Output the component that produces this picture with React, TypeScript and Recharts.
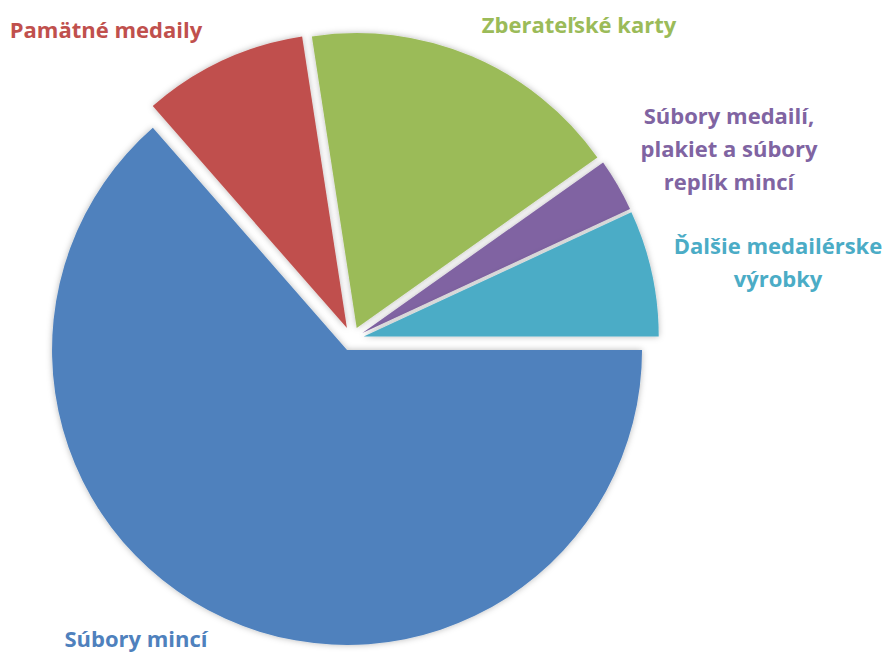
import React from 'react';
import { PieChart, Pie, Cell, Sector } from 'recharts';

// slices in drawing order (clockwise from 3 o'clock)
const sliceNames = [
    'Súbory mincí',
    'Pamätné medaily',
    'Zberateľské karty',
    'Súbory medailí, plakiet a súbory replík mincí',
    'Ďalšie medailérske výrobky',
];
const sliceValues = [63.5, 9.0, 17.6, 2.9, 6.9];
const sliceColors = ['#4F81BD', '#C0504D', '#9BBB59', '#8064A2', '#4BACC6'];
const labelLines = [
    ['Súbory mincí'],
    ['Pamätné medaily'],
    ['Zberateľské karty'],
    ['Súbory medailí,', 'plakiet a súbory', 'replík mincí'],
    ['Ďalšie medailérske', 'výrobky'],
];

// label anchors (center x, first baseline y)
const labelPos = [
    { x: 136, y: 647 },
    { x: 106, y: 38 },
    { x: 579, y: 33 },
    { x: 729, y: 124 },
    { x: 778, y: 254 },
];

const data = sliceNames.map((name, i) => ({ name, value: sliceValues[i] }));

const RADIAN = Math.PI / 180;
const EXPLODE = 12;
const LINE_STEP = 33;

const ExplodedSector = (props: any) => {
    const { cx, cy, midAngle } = props;
    const dx = EXPLODE * Math.cos(-midAngle * RADIAN);
    const dy = EXPLODE * Math.sin(-midAngle * RADIAN);
    return (
        <Sector
            {...props}
            cx={cx + dx}
            cy={cy + dy}
            stroke="none"
            filter="url(#sliceShadow)"
        />
    );
};

const renderLabel = (props: any) => {
    const i = props.index;
    const pos = labelPos[i];
    return (
        <text
            key={`lbl-${i}`}
            x={pos.x}
            y={pos.y}
            textAnchor="middle"
            fill={sliceColors[i]}
            fontFamily="'Open Sans', sans-serif"
            fontWeight={700}
            fontSize={22}
        >
            {labelLines[i].map((line, k) => (
                <tspan key={k} x={pos.x} y={pos.y + k * LINE_STEP}>
                    {line}
                </tspan>
            ))}
        </text>
    );
};

export default function App() {
    return (
        <div style={{ position: 'absolute', left: 0, top: 0, width: 887, height: 655, background: '#fff' }}>
            <svg width={0} height={0} style={{ position: 'absolute' }}>
                <defs>
                    <filter id="sliceShadow" x="-20%" y="-20%" width="140%" height="140%">
                        <feDropShadow dx="0" dy="0" stdDeviation="3" floodColor="#000" floodOpacity="0.28" />
                    </filter>
                </defs>
            </svg>
            <PieChart width={887} height={655} margin={{ top: 0, right: 0, bottom: 0, left: 0 }}>
                <Pie
                    data={data}
                    dataKey="value"
                    nameKey="name"
                    cx={352}
                    cy={339}
                    outerRadius={295}
                    startAngle={0}
                    endAngle={-360}
                    stroke="none"
                    shape={ExplodedSector}
                    label={renderLabel}
                    labelLine={false}
                    isAnimationActive={false}
                >
                    {data.map((_, i) => (
                        <Cell key={`cell-${i}`} fill={sliceColors[i]} />
                    ))}
                </Pie>
            </PieChart>
        </div>
    );
}
